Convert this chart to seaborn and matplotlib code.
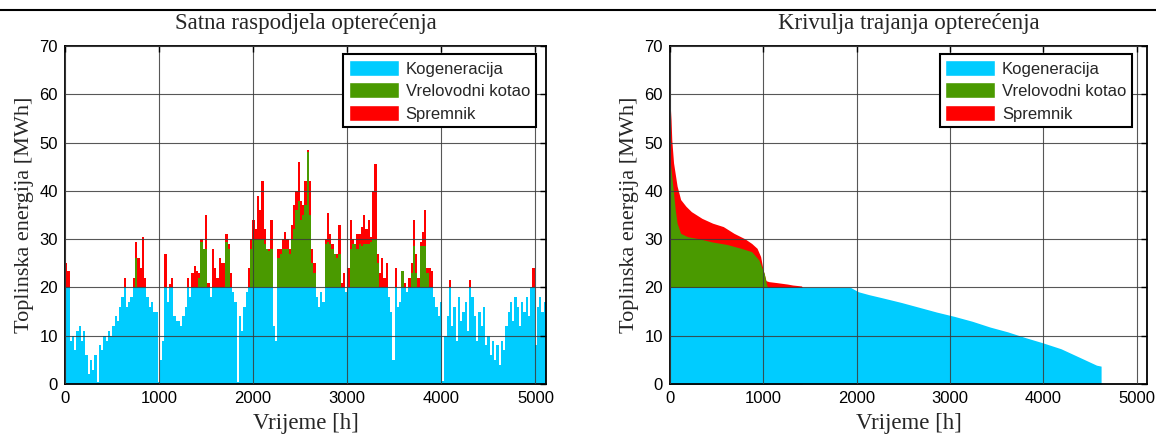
import numpy as np
import pandas as pd
import matplotlib
matplotlib.use('Agg')
import matplotlib.pyplot as plt
from matplotlib.patches import Patch
from matplotlib.lines import Line2D
import seaborn as sns

# ---------------- data ----------------
# hourly load aggregated per day (24 h bins), heating season 0..5112 h
cogen = [20, 20, 9, 10, 7, 11, 12, 9, 11, 6,
         2, 5, 3, 6, 0.5, 8, 7, 10, 9, 11,
         10, 12, 14, 13, 16, 18, 20, 16, 17, 18,
         20, 20, 20, 20, 20, 20, 18, 16, 17, 15,
         15, 0.5, 5, 9, 20, 17, 20, 20, 14, 13,
         13, 12, 14, 16, 20, 18, 20, 20, 20, 20,
         20, 20, 20, 20, 18, 20, 20, 20, 20, 20,
         20, 20, 20, 20, 19, 17, 0.5, 14, 11, 16,
         19, 20, 20, 20, 20, 20, 20, 20, 20, 20,
         20, 20, 12, 9, 20, 20, 20, 20, 20, 20,
         20, 20, 20, 20, 20, 20, 20, 20, 20, 20,
         20, 18, 16, 19, 17, 20, 20, 20, 20, 20,
         20, 20, 20, 20, 19, 20, 20, 20, 20, 20,
         20, 20, 20, 20, 20, 20, 20, 20, 20, 20,
         20, 20, 20, 18, 15, 5, 20, 16, 17, 20,
         20, 19, 20, 20, 20, 20, 20, 20, 20, 20,
         20, 20, 20, 18, 16, 14, 17, 0.7, 10, 14,
         20, 12, 16, 9, 18, 13, 15, 17, 11, 20,
         18, 14, 9, 15, 12, 16, 8, 10, 6, 9,
         5, 8, 4, 9, 7, 12, 15, 17, 13, 18,
         16, 12, 17, 15, 18, 14, 20, 20, 8, 16, 18, 15, 17]

boiler = [0] * 30 + \
         [0, 6, 0, 0, 0, 0, 0, 0, 0, 0] + \
         [0] * 10 + \
         [0, 0, 0, 0, 0, 0, 0, 0, 0, 2] + \
         [9.5, 8, 8, 0, 0, 0, 0, 0, 0, 0] + \
         [0, 9.5, 8, 0, 0, 0, 0, 0, 0, 0] + \
         [0, 0, 8, 10, 10, 10, 10, 10, 9, 8] + \
         [7.5, 8, 0, 0, 6, 7, 8, 8, 8, 7] + \
         [10, 12, 16, 18, 14, 15, 17, 28, 15, 5] + \
         [3, 0, 0, 0, 0, 9, 9.5, 9, 8, 7] + \
         [6, 7, 0, 0, 0, 0, 8, 9, 9, 8] + \
         [9, 8.5, 9, 9, 9, 9.5, 10, 10, 5, 0] + \
         [0, 0, 0, 0, 0, 0, 0, 0, 0, 3.5] + \
         [0, 0, 0, 3, 8.5, 3, 0, 8.5, 8.5, 8.5] + \
         [3, 0, 0, 0, 0, 0, 0, 0, 0, 0] + \
         [0] * 43

storage = [5, 3.5, 0, 0, 0, 0, 0, 0, 0, 0] + \
          [0] * 10 + \
          [0, 0, 0, 0, 0, 0, 2, 0, 0, 0] + \
          [2, 3.5, 6, 4, 10.5, 2, 0, 0, 0, 0] + \
          [0, 0, 0, 0, 7, 0, 0.8, 2, 0, 0] + \
          [0, 0, 0, 0, 2, 0, 3, 4.5, 3.5, 1] + \
          [0.5, 0, 7, 1, 0, 8, 4, 2, 6, 5] + \
          [5, 1.5, 1, 3, 0, 0, 0, 0, 0, 0] + \
          [0, 4, 2, 4, 2, 9, 6, 12, 3, 0] + \
          [0.5, 6, 0, 0, 2, 1, 2, 3.5, 2, 1] + \
          [3, 5, 4, 8, 4, 2, 5, 0.5, 7, 3] + \
          [2, 0, 0, 0, 0, 1, 6, 2, 1, 0] + \
          [1, 6, 1, 3, 0, 4, 6, 1, 0, 3] + \
          [2, 4, 6, 3, 5, 1, 10, 15.5, 2, 3] + \
          [6, 2, 5, 0, 0, 0, 4, 0, 0, 0] + \
          [1, 0, 2, 2, 5.5, 4, 2, 1, 3, 7.5] + \
          [1, 4, 3.5, 0, 0, 0, 0, 0, 0, 0] + \
          [1.5, 0, 0, 0, 0, 0, 0, 0, 0, 1.5] + \
          [0] * 20 + \
          [0, 0, 0, 0, 0, 0, 0, 4, 0, 0, 0, 0, 0]

# load duration curve (breakpoints)
dur_total_h = [0, 3, 11, 19, 38, 76, 114, 171, 229, 343, 457, 571, 686, 800,
               876, 933, 971, 998, 1029, 1059, 1143, 1257, 1314, 1410, 1417]
dur_total = [59.6, 57.5, 54.8, 50.6, 45.8, 41, 38.2, 36.8, 35.7, 34.3, 33.3,
             32.6, 31.2, 30.1, 29.1, 28.1, 26.4, 23.6, 21.4, 21.2, 21.0, 20.7,
             20.5, 20.3, 20.0]
dur_boiler_h = [0, 19, 38, 57, 76, 114, 190, 305, 457, 610, 762, 876, 952,
                1010, 1036, 1048]
dur_boiler = [46.5, 43, 39.5, 36, 33.3, 31.2, 30.5, 30.1, 29.4, 28.9, 28.1,
              27.4, 25.7, 22.9, 20.5, 20.0]
dur_cogen_h = [0, 1935, 2019, 2133, 2286, 2476, 2667, 2857, 3048, 3238, 3429,
               3619, 3810, 4000, 4190, 4381, 4571, 4620]
dur_cogen = [20, 20, 19.1, 18.5, 17.8, 16.9, 15.9, 14.9, 14.0, 13.0, 11.8,
             10.8, 9.6, 8.5, 7.3, 5.6, 3.9, 3.7]

labels = ['Kogeneracija', 'Vrelovodni kotao', 'Spremnik']
titles = ['Satna raspodjela opterećenja', 'Krivulja trajanja opterećenja']
xlabel = 'Vrijeme [h]'
ylabel = 'Toplinska energija [MWh]'
x_ticks = [0, 1000, 2000, 3000, 4000, 5000]
y_ticks = [0, 10, 20, 30, 40, 50, 60, 70]

C_CYAN = '#00CCFF'
C_GREEN = '#4A9A00'
C_RED = '#FF0000'

# ---------------- style ----------------
sns.set_style('white')
plt.rcParams['font.family'] = ['Liberation Sans', 'DejaVu Sans']
SERIF = ['Liberation Serif', 'DejaVu Serif']

fig = plt.figure(figsize=(11.56, 4.34), dpi=100)
W, H = 1156, 434
ax1 = fig.add_axes([65 / W, 50 / H, 481 / W, 338 / H])
ax2 = fig.add_axes([670 / W, 50 / H, 477 / W, 338 / H])

n = len(cogen)
hours = np.arange(n) * 24 + 12
cg = np.array(cogen, float)
bo = np.array(boiler, float)
st = np.array(storage, float)
span = (0, 24 * n)

sns.histplot(x=hours, weights=cg + bo + st, binwidth=24, binrange=span,
             color=C_RED, alpha=1, linewidth=0, ax=ax1)
sns.histplot(x=hours, weights=cg + bo, binwidth=24, binrange=span,
             color=C_GREEN, alpha=1, linewidth=0, ax=ax1)
sns.histplot(x=hours, weights=cg, binwidth=24, binrange=span,
             color=C_CYAN, alpha=1, linewidth=0, ax=ax1)

ax2.fill_between(dur_total_h, dur_total, color=C_RED, lw=0)
ax2.fill_between(dur_boiler_h, dur_boiler, color=C_GREEN, lw=0)
ax2.fill_between(dur_cogen_h, dur_cogen, color=C_CYAN, lw=0)

handles = [Patch(facecolor=C_CYAN), Patch(facecolor=C_GREEN), Patch(facecolor=C_RED)]

for ax, title, lx in ((ax1, titles[0], 0.979), (ax2, titles[1], 0.969)):
    ax.set_xlim(0, 5112)
    ax.set_ylim(0, 70)
    ax.set_xticks(x_ticks)
    ax.set_yticks(y_ticks)
    ax.set_xticklabels([str(t) for t in x_ticks])
    ax.set_yticklabels([str(t) for t in y_ticks])
    ax.grid(True, color='#3a3a3a', linewidth=0.8, alpha=0.85)
    ax.set_axisbelow(False)
    ax.tick_params(direction='in', top=True, right=True, length=4, width=1,
                   labelsize=12, pad=5, colors='black')
    for sp in ax.spines.values():
        sp.set_visible(True)
        sp.set_color('black')
        sp.set_linewidth(1.3)
    ax.set_title(title, fontfamily=SERIF, fontsize=16.5, pad=12)
    ax.set_xlabel(xlabel, fontfamily=SERIF, fontsize=16.5, labelpad=5)
    ax.set_ylabel(ylabel, fontfamily=SERIF, fontsize=16, labelpad=4)
    leg = ax.legend(handles, labels, loc='upper right', bbox_to_anchor=(lx, 0.976),
                    borderaxespad=0, fontsize=12, frameon=True, fancybox=False,
                    handlelength=3.0, handleheight=1.1, labelspacing=0.35,
                    handletextpad=0.4, borderpad=0.35)
    leg.get_frame().set_edgecolor('black')
    leg.get_frame().set_linewidth(1.5)
    leg.get_frame().set_alpha(1)

fig.add_artist(Line2D([0, 1], [1 - 9.5 / H, 1 - 9.5 / H], color='black', lw=1.5,
                      transform=fig.transFigure))

fig.savefig('out.png', dpi=100)
